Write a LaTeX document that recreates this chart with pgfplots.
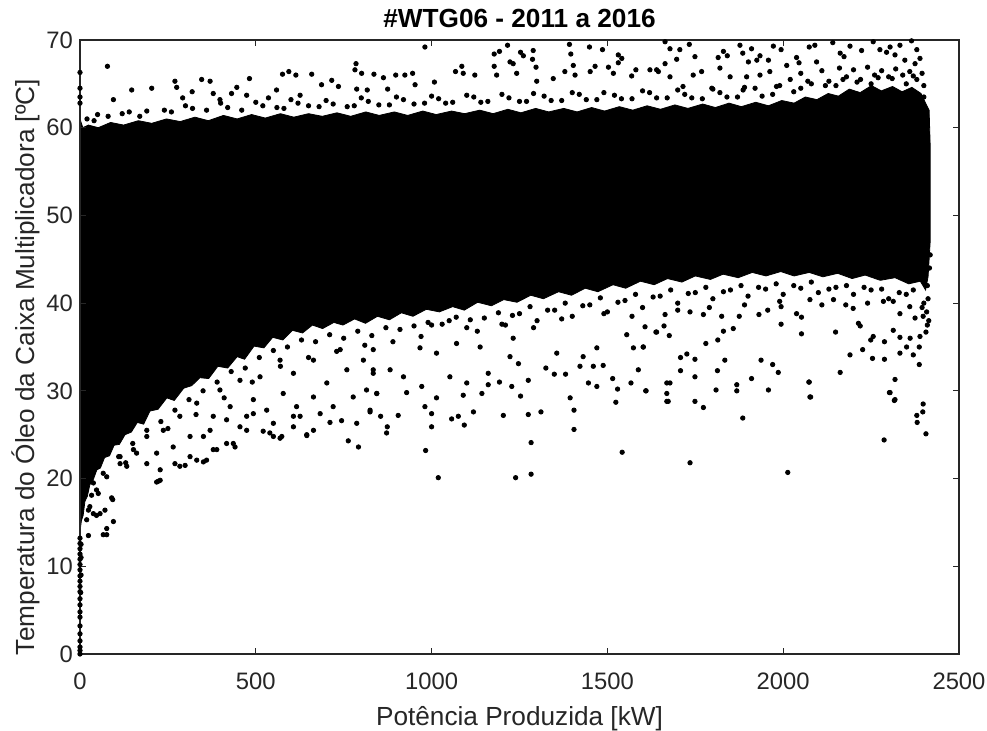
\documentclass[border=0pt]{standalone}
\usepackage{fontspec}
\setmainfont{Liberation Sans}
\usepackage{pgfplots}
\pgfplotsset{compat=1.18}
\definecolor{axgray}{rgb}{0.15,0.15,0.15}
\begin{document}
\begin{tikzpicture}
\path[use as bounding box] (-40pt,-38.5pt) rectangle (453.5pt,327pt);
\begin{axis}[
  at={(0,0)}, anchor=south west,
  scale only axis, width=439.5pt, height=307pt,
  xmin=0, xmax=2500, ymin=0, ymax=70,
  xtick={0,500,...,2500}, ytick={0,10,...,70},
  /pgf/number format/1000 sep={},
  /pgf/number format/assume math mode=true,
  tick align=inside, major tick length=3pt,
  xtick pos=both, ytick pos=both,
  axis line style={axgray, line width=0.6pt},
  tick style={axgray, line width=0.6pt},
  ticklabel style={font=\fontsize{11.9}{13}\selectfont, text=axgray},
  label style={font=\fontsize{13.1}{15}\selectfont, text=axgray},
  xlabel={Potência Produzida [kW]},
  ylabel={Temperatura do Óleo da Caixa Multiplicadora [ºC]},
  xlabel style={at={(0.5,0)}, anchor=base, yshift=-36pt},
  ylabel style={at={(0,0.5)}, anchor=base, rotate=0, yshift=22.5pt, xshift=-10pt},
  xticklabel style={yshift=-6pt},
  clip=false, axis on top,
]
% dense core of the cloud
\addplot[fill=black, draw=black, line width=0.4pt] coordinates {
(0,14) (4,15.2) (9,15.8) (14,17.4) (21,18) (28,19.3) (37,19.8) (48,21)
(58,21.2) (70,22.4) (84,22.6) (97,23.8) (112,23.9) (128,25) (146,25.3)
(163,26.4) (181,26.2) (199,27.7) (222,27.9) (247,29.2) (268,28.9) (295,30.3)
(318,30.6) (341,31.5) (366,31.4) (392,32.8) (420,32.6) (447,33.9) (468,33.6)
(495,35.1) (523,34.9) (548,36.1) (577,35.8) (604,36.9) (633,36.6) (661,37.5)
(690,37.1) (722,37.8) (748,37.5) (781,38.2) (812,37.7) (846,38.5) (880,38.1)
(914,38.9) (947,38.5) (985,39.3) (1022,39) (1060,39.6) (1093,39.2)
(1131,40.1) (1170,39.7) (1205,40.4) (1243,40.1) (1282,40.9) (1318,40.5)
(1361,41.3) (1398,40.9) (1437,41.7) (1473,41.3) (1516,42.1) (1552,41.7)
(1594,42.5) (1633,42.1) (1671,42.8) (1712,42.4) (1750,43.1) (1793,42.7)
(1829,43.3) (1872,42.9) (1912,43.5) (1951,43.1) (1993,43.6) (2031,43.1)
(2074,43.5) (2113,43) (2155,43.4) (2196,42.8) (2233,43.2) (2276,42.6)
(2318,42.9) (2357,42.2) (2390,42.5) (2405,41.5) (2412,43) (2418,47) (2418,58)
(2415,62) (2405,62.8) (2392,63.9) (2366,64.6) (2338,64.1) (2311,64.7)
(2279,64.2) (2251,64.8) (2219,64) (2188,64.4) (2157,63.6) (2128,63.9)
(2096,63.2) (2063,63.5) (2031,62.8) (1996,63.1) (1958,62.5) (1922,62.9)
(1881,62.4) (1846,62.8) (1807,62.3) (1771,62.7) (1729,62.2) (1692,62.6)
(1651,62.1) (1613,62.5) (1572,62) (1534,62.4) (1492,61.9) (1455,62.3)
(1414,61.8) (1376,62.2) (1333,61.8) (1296,62.2) (1254,61.7) (1217,62.1)
(1175,61.6) (1137,62) (1094,61.6) (1057,61.9) (1013,61.5) (975,61.9)
(932,61.4) (894,61.8) (851,61.4) (813,61.8) (770,61.3) (731,61.7) (689,61.3)
(650,61.6) (608,61.2) (570,61.6) (527,61.1) (488,61.5) (447,61) (408,61.4)
(365,60.8) (327,61.2) (285,60.7) (246,61) (204,60.5) (166,60.8) (124,60.3)
(87,60.6) (52,60) (24,60.3) (8,60) (0,61)
} -- cycle;
% scattered points
\addplot[only marks, mark=*, mark size=1.1pt, black] coordinates {
(0,66.3) (0,64.5) (0,62.8) (0,63.5) (78,67.0) (95,63.2) (147,64.3) (204,64.5)
(270,65.3) (275,64.6) (292,63.4) (319,64.1) (346,65.5) (370,65.3) (379,63.9)
(398,63.2) (431,63.9) (446,64.6) (474,63.7) (482,65.6) (536,63.4) (559,64.3)
(576,66.1) (594,66.4) (614,66.0) (626,63.7) (659,66.1) (687,64.9) (716,65.4)
(735,64.7) (782,66.6) (785,67.3) (787,64.4) (801,66.2) (817,64.3) (836,66.1)
(863,65.7) (875,64.4) (898,66.0) (924,66.0) (946,66.2) (953,64.9) (981,69.2)
(1008,65.2) (1068,66.4) (1086,67.0) (1090,66.2) (1123,66.0) (1178,68.4)
(1178,67.0) (1185,66.0) (1193,68.7) (1216,69.4) (1223,67.5) (1232,67.3)
(1242,66.2) (1253,68.6) (1261,68.2) (1287,67.8) (1289,68.8) (1297,66.9)
(1299,65.3) (1346,65.6) (1379,66.4) (1392,69.5) (1396,68.4) (1403,67.1)
(1408,66.0) (1449,69.2) (1451,66.4) (1465,67.0) (1486,68.9) (1503,66.9)
(1517,66.2) (1531,68.3) (1531,67.4) (1541,67.9) (1569,65.9) (1581,66.6)
(1621,66.6) (1640,66.6) (1645,66.4) (1664,67.3) (1664,69.8) (1678,69.0)
(1678,65.8) (1697,67.8) (1706,68.9) (1715,64.7) (1733,69.5) (1744,66.0)
(1749,68.1) (1768,66.4) (1797,64.5) (1815,68.0) (1820,66.8) (1830,68.7)
(1841,68.2) (1849,65.8) (1877,69.4) (1885,68.5) (1886,64.3) (1896,65.8)
(1901,67.5) (1910,69.0) (1925,67.7) (1934,68.2) (1934,66.0) (1958,67.7)
(1962,66.4) (1972,69.3) (1981,64.7) (1994,68.9) (2010,67.1) (2038,68.0)
(2045,67.4) (2074,69.2) (2090,69.4) (2095,67.5) (2141,69.7) (2162,68.5)
(2173,68.1) (2190,69.3) (2223,68.8) (2256,69.8) (2275,68.9) (2294,68.6)
(2304,69.2) (2318,68.3) (2332,69.4) (2346,67.7) (2365,69.9) (2375,67.3)
(2380,68.9) (2389,67.9)
(2020,65.5) (2050,66.2) (2080,65) (2110,66.5) (2130,65.3) (2160,66.8)
(2180,65.8) (2200,66.6) (2220,65.5) (2240,66.9) (2260,66) (2280,66.5)
(2300,65.8) (2320,66.7) (2340,66) (2360,66.4) (2380,65.5) (2395,66.2)
(2400,64.8) (2050,64.5) (2150,64.8) (2250,65) (2350,65)
(20,61) (50,61.5) (120,61.6) (170,61.3) (240,62) (320,62.2) (420,62.3)
(520,62.5) (580,62.2) (620,62.8) (680,62.4) (720,62.7) (780,62.5) (820,63)
(880,62.6) (920,63.2) (980,62.8) (1020,63.3) (1060,62.9) (1120,63.5)
(1160,63) (1220,63.4) (1270,63) (1320,63.6) (1370,63.1) (1420,63.8)
(1470,63.2) (1520,63.7) (1570,63.3) (1620,64) (1670,63.4) (1720,63.8)
(1770,63.3) (1820,64) (1870,63.5) (1920,64.5) (1970,63.8)
(40,60.8) (80,61.3) (140,61.8) (190,61.9) (260,61.8) (300,62.5) (360,62)
(400,62.8) (460,62) (500,62.9) (560,62.3) (600,63.2) (650,62.5) (700,63.1)
(760,62.4) (800,63.4) (850,62.6) (900,63.5) (950,62.7) (1000,63.6)
(1040,62.8) (1100,63.7) (1140,62.9) (1200,63.8) (1250,63) (1290,63.9)
(1340,63.1) (1400,64) (1440,63.2) (1490,64) (1540,63.3) (1600,64.2)
(1640,63.4) (1700,64.3) (1740,63.4) (1800,64.4) (1840,63.5) (1890,64.6)
(1940,63.6) (1990,64.8) (2030,64.1) (2070,65.3) (2120,64.8) (2170,65.5)
(2210,65.2) (2270,65.7) (2310,65.6) (2370,65.9) (2400,63.5)
(0,0) (0,0.4) (0,0.8) (0,1.5) (0,2.3) (0,3.2) (0,4.2) (0,4.8) (0,5.6)
(0,6.3) (0,7.1) (0,7.7) (0,8.3) (0,8.9) (0,9.6) (0,10.2) (0,10.8) (0,11.4)
(0,12) (0,12.6) (0,13.2) (3,12.5) (3,11) (3,9) (2,7)
(24,13.5) (47,15.8) (57,16.0) (71,16.4) (76,14.3) (95,15.1) (93,17.6)
(66,13.6) (76,13.6) (19,15.3) (28,16.8) (33,18.1) (52,18.3) (24,16.4)
(38,16.0) (223,19.7)
(90,17.8) (218,19.6) (228,21.0) (299,21.5) (351,21.9) (379,23.3) (417,24.0)
(441,23.6) (645,25.0) (474,25.5) (540,25.2) (550,24.8) (574,24.8) (493,27.4)
(351,24.8) (313,22.5) (270,21.7) (190,21.7) (161,22.9) (133,21.4) (114,22.5)
(66,20.6) (47,18.7) (607,25.9) (626,27.1)
(792,23.6) (763,24.3) (645,24.9) (569,24.6) (711,26.4) (744,26.6) (664,25.5)
(825,27.6) (777,29.3) (844,29.7) (720,28.2) (521,25.4) (455,25.9) (436,24.0)
(389,23.3) (360,22.1) (332,22.1) (284,21.4) (228,19.8)
(379,27.1) (427,28.2) (493,29.0) (531,27.8) (578,29.7) (616,28.2) (664,29.3)
(702,30.9) (759,32.4) (806,33.5) (834,34.7) (740,34.7) (664,33.5) (607,32.0)
(569,33.5) (512,31.6) (455,31.2) (398,30.1) (332,28.6) (284,27.1) (237,25.5)
(190,24.8) (152,23.3) (114,21.7) (76,20.2) (38,19.5) (218,22.9) (265,23.6)
(313,24.8) (370,25.5) (417,26.7) (474,27.1) (550,26.3) (607,27.1) (683,27.4)
(787,26.3) (815,30.1) (834,32.0)
(110,22.5) (150,24) (190,25.5) (230,26.5) (270,27.8) (310,29) (350,30)
(390,31) (430,32.2) (470,32.6) (510,33.8) (550,34.6) (590,35) (630,35.8)
(670,35.6) (710,36.4) (750,36) (790,36.8) (830,36.3) (870,37.2) (910,37)
(950,37.4) (990,37.8) (1030,37.6) (1070,38.4) (1110,38.1) (1190,38.9)
(1230,38.6) (1280,39.6) (1330,39.2) (1380,40) (1430,39.7) (1480,40.6)
(1530,40.1) (1580,41) (1630,40.7) (1680,41.5) (1730,41.1) (1780,41.8)
(1830,41.3) (1880,42) (1930,41.8) (1980,42.2) (2030,42) (2080,42.4)
(2130,41.6) (2180,42) (2230,41.8) (2280,41.6) (2330,41.2) (2370,41.5)
(2395,39.5)
(130,21.8) (250,25.7) (330,27.3) (410,29.2) (490,31) (570,32.8) (650,33.8)
(730,34.5) (810,35.2) (890,35.6) (970,36.2) (1130,36.8) (1210,37.5)
(1290,37.2) (1370,38.2) (1490,38.8) (1570,38.5) (1700,39.2) (1790,39.5)
(1890,39.8) (1990,40.2) (2110,39.8) (2240,40) (2360,39.6)
(1019,20.1) (1239,20.1) (1283,20.5) (983,23.2) (1283,24.1) (1542,23.0)
(1405,25.6) (872,25.2) (874,25.9) (855,27.1) (905,27.2) (1000,25.9)
(1000,27.4) (1057,26.8) (1076,27.1) (1093,26.1) (1119,27.6) (1204,27.2)
(1275,27.3) (1311,27.6) (1405,27.8) (1394,29.2) (1524,28.7) (1669,28.8)
(1669,29.7) (1609,30.0) (1567,30.9) (1529,30.2) (1515,31.4) (1470,30.5)
(1446,30.9) (825,27.8) (844,29.7) (929,29.8) (981,28.2) (1014,29.2)
(1090,29.5) (1143,29.7) (1161,30.7) (1193,31.0) (1228,30.5) (1253,29.4)
(1275,31.2) (1325,32.6) (1349,31.9) (1381,31.9) (1422,32.8) (1460,32.8)
(1488,32.9) (1588,32.4) (1669,30.9) (1247,33.1) (1223,33.9) (1161,32.0)
(1100,30.9) (1052,31.6) (972,30.5) (920,31.6) (882,32.4) (834,32.4)
(1356,34.3) (1431,33.9) (1470,34.9) (1574,34.9) (1602,35.0) (1640,36.7)
(1555,36.4) (1232,36.0) (1138,35.0) (1071,35.4) (1014,34.3) (967,34.9)
(1735,21.8) (2013,20.7) (2287,24.4) (2406,25.1) (2381,26.4) (2380,27.2)
(2397,27.6) (2398,28.5) (2318,29.0) (2304,29.8) (2318,31.3) (1885,26.9)
(1773,28.1) (1749,28.8) (1673,28.8) (1678,30.9) (1610,30.0) (1749,31.6)
(1708,32.3) (1708,33.8) (1726,34.2) (1749,33.6) (1809,30.1) (1813,32.3)
(1834,33.5) (1868,30.7) (1868,30.0) (1910,31.4) (1937,33.5) (1958,30.1)
(1970,33.0) (1986,32.1) (2074,31.0) (2076,29.3) (2162,32.1) (2190,34.1)
(2226,34.7) (2254,33.7) (2288,33.6) (2332,34.3) (2370,34.1) (2387,33.0)
(2387,35.0) (2351,35.0) (2288,35.6) (2249,35.8) (2256,36.2) (2313,36.9)
(2332,36.1) (2361,36.0) (2389,36.2) (2406,36.7) (2398,38.5) (2375,38.3)
(2332,38.8) (2214,37.7) (2219,37.4) (2149,36.7) (2178,39.8) (2199,39.4)
(2052,36.5) (2052,38.4) (2038,38.8) (1994,37.6) (1931,38.7) (1875,38.5)
(1858,37.1) (1830,36.8) (1814,35.8) (1780,35.4) (1676,36.3) (1638,36.7)
(1602,35.0) (1607,37.3) (1661,37.4) (1664,38.7) (1735,39.0) (1773,38.7)
(1825,38.5) (1956,39.2) (1994,39.6) (2285,40.2) (2313,40.2) (2143,40.4)
(2076,40.4) (2302,29.8) (2316,28.9) (2073,31.0) (2078,29.3)
(1000,37.5) (1050,38) (1100,37.2) (1150,38.3) (1200,37.6) (1250,38.8)
(1300,38) (1350,39.2) (1400,38.5) (1450,39.8) (1500,39) (1550,40.3)
(1600,39.5) (1650,40.8) (1700,40) (1750,41.2) (1800,40.5) (1850,41.5)
(1900,40.8) (1950,41.6) (2000,41) (2050,41.7) (2100,41.2) (2150,41.8)
(2200,41) (2250,41.5) (2300,40.5) (2350,41) (2400,40)
(2410,42) (2412,40.5) (2408,39) (2414,38) (2410,37.5) (2416,44) (2418,45.5)
};
\node[font=\bfseries\fontsize{13.1}{15}\selectfont, text=black, anchor=base]
  at (rel axis cs:0.5,1) [yshift=6pt] {\#WTG06 - 2011 a 2016};
\end{axis}
\end{tikzpicture}
\end{document}
